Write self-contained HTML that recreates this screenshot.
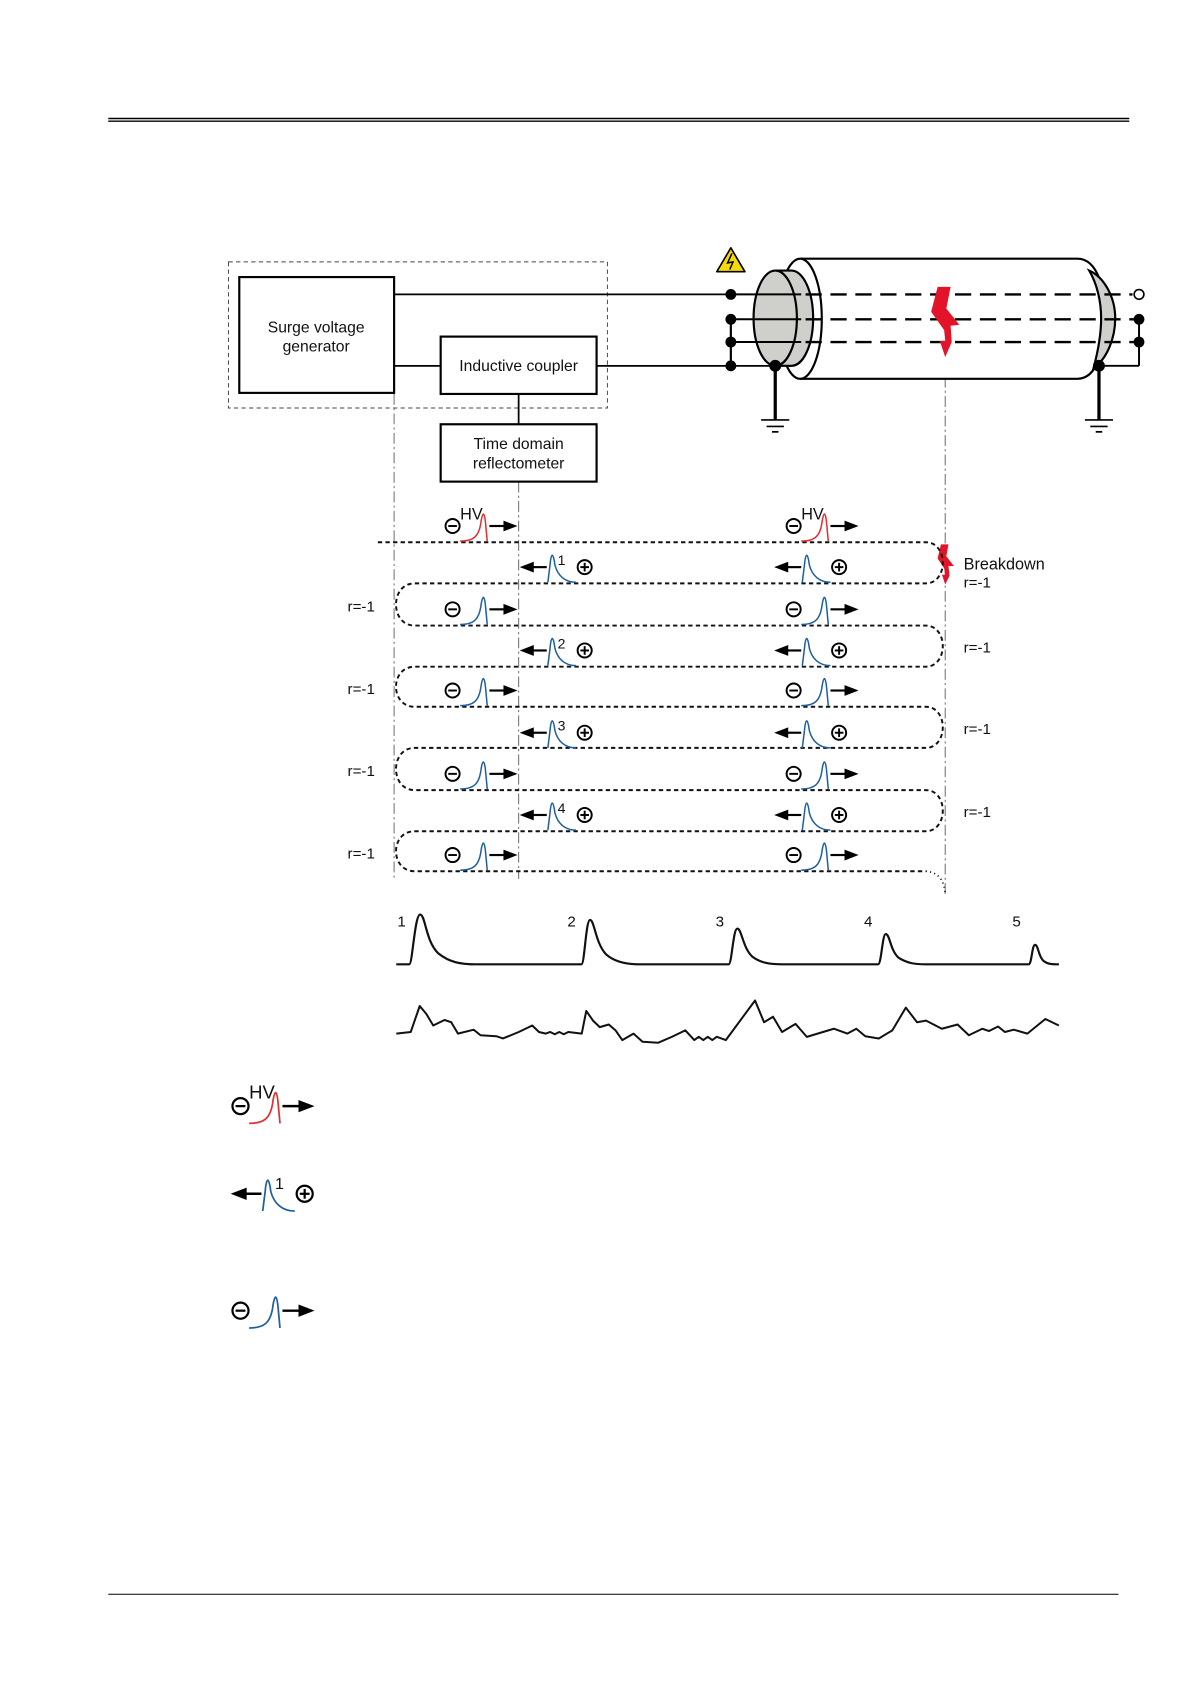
<!DOCTYPE html>
<html><head><meta charset="utf-8"><style>
html,body{margin:0;padding:0;background:#fff;}
svg{display:block;}
text{font-family:"Liberation Sans",sans-serif;fill:#111;}
</style></head><body>
<svg width="1191" height="1683" viewBox="0 0 1100 1555" preserveAspectRatio="none" xmlns="http://www.w3.org/2000/svg">
<defs>
  <g id="minus"><circle cx="0" cy="0" r="6.5" fill="none" stroke="#000" stroke-width="1.8"/><line x1="-4" y1="0" x2="4" y2="0" stroke="#000" stroke-width="1.8"/></g>
  <g id="plus"><circle cx="0" cy="0" r="6.5" fill="none" stroke="#000" stroke-width="1.8"/><line x1="-4" y1="0" x2="4" y2="0" stroke="#000" stroke-width="1.8"/><line x1="0" y1="-4" x2="0" y2="4" stroke="#000" stroke-width="1.8"/></g>
  <g id="arrR"><line x1="42" y1="0" x2="56" y2="0" stroke="#000" stroke-width="2"/><polygon points="55,-5 68,0 55,5" fill="#000"/></g>
  <g id="R">
    <use href="#minus" x="8" y="0"/>
    <path d="M15,14 C27,14 32,10 34,-2 C35.5,-14 37.5,-14 38.5,-2 L40,14" fill="none" stroke="#1f5fa0" stroke-width="1.4"/>
    <use href="#arrR"/>
  </g>
  <g id="RHV">
    <use href="#minus" x="8" y="0"/>
    <path d="M15,14 C27,14 32,10 34,-2 C35.5,-14 37.5,-14 38.5,-2 L40,14" fill="none" stroke="#e03030" stroke-width="1.4"/>
    <text x="15" y="-6" font-size="15">HV</text>
    <use href="#arrR"/>
  </g>
  <g id="L">
    <polygon points="0,0 13,-5 13,5" fill="#000"/>
    <line x1="12" y1="0" x2="25" y2="0" stroke="#000" stroke-width="2"/>
    <path d="M26,14 L28,-2 C29,-14 31,-14 32.5,-2 C35,8 42,14 52,14" fill="none" stroke="#1f5fa0" stroke-width="1.4"/>
    <use href="#plus" x="60" y="0"/>
  </g>
</defs>

<line x1="100" y1="109.5" x2="1043" y2="109.5" stroke="#000" stroke-width="1.3"/>
<line x1="100" y1="112" x2="1043" y2="112" stroke="#000" stroke-width="1.3"/>
<line x1="100" y1="1473" x2="1033" y2="1473" stroke="#000" stroke-width="1"/>

<rect x="211" y="242" width="350" height="135" fill="none" stroke="#444" stroke-width="0.9" stroke-dasharray="4 3"/>

<g stroke="#777" stroke-width="1" stroke-dasharray="10 3 2 3" fill="none">
  <line x1="364" y1="364" x2="364" y2="812"/>
  <line x1="479" y1="445" x2="479" y2="812"/>
  <line x1="873" y1="330" x2="873" y2="826"/>
</g>

<g stroke="#000" stroke-width="1.6" fill="none">
  <line x1="364" y1="272" x2="675" y2="272"/>
  <line x1="364" y1="338" x2="407" y2="338"/>
  <line x1="551" y1="338" x2="716" y2="338"/>
  <line x1="479" y1="364" x2="479" y2="392"/>
  <line x1="675" y1="295" x2="675" y2="338" stroke-width="2"/>
</g>

<rect x="221" y="256" width="143" height="107" fill="#fff" stroke="#000" stroke-width="2"/>
<text x="292" y="307" font-size="14.5" text-anchor="middle">Surge voltage</text>
<text x="292" y="325" font-size="14.5" text-anchor="middle">generator</text>
<rect x="407" y="311" width="144" height="53" fill="#fff" stroke="#000" stroke-width="2"/>
<text x="479" y="343" font-size="14.5" text-anchor="middle">Inductive coupler</text>
<rect x="407" y="392" width="144" height="53" fill="#fff" stroke="#000" stroke-width="2"/>
<text x="479" y="415" font-size="14.5" text-anchor="middle">Time domain</text>
<text x="479" y="433" font-size="14.5" text-anchor="middle">reflectometer</text>

<polygon points="675,229 688,251 662,251" fill="#f5d90a" stroke="#000" stroke-width="1.5" stroke-linejoin="round"/>
<polyline points="676,234 672,243 677,242 674,249" fill="none" stroke="#000" stroke-width="1.4"/>

<path d="M739,239 H995 C1014,239 1021,268 1021,294 C1021,320 1014,350 995,350 H739" fill="#fff" stroke="#000" stroke-width="2"/>
<path d="M1006,250 C1020,256 1030,275 1030,294 C1030,313 1022,332 1010,340 C1014,325 1017,310 1017,294 C1017,278 1013,262 1006,250 Z" fill="#cfcfcc" stroke="#000" stroke-width="2"/>
<ellipse cx="739" cy="294.5" rx="20" ry="55.5" fill="#fff" stroke="#000" stroke-width="2"/>
<ellipse cx="731" cy="294" rx="20" ry="44" fill="#cfcfcc" stroke="#000" stroke-width="2"/>
<rect x="716" y="250" width="15" height="88" fill="#cfcfcc"/>
<line x1="716" y1="250" x2="731" y2="250" stroke="#000" stroke-width="2"/>
<line x1="716" y1="338" x2="731" y2="338" stroke="#000" stroke-width="2"/>
<ellipse cx="716" cy="294" rx="20" ry="44" fill="#cfcfcc" stroke="#000" stroke-width="2"/>

<g stroke="#000" stroke-width="1.8">
  <line x1="675" y1="272" x2="740" y2="272"/>
  <line x1="675" y1="295" x2="740" y2="295"/>
  <line x1="675" y1="316" x2="740" y2="316"/>
</g>
<g stroke="#000" stroke-width="2.2" stroke-dasharray="15 8">
  <line x1="744" y1="272" x2="1046" y2="272"/>
  <line x1="744" y1="295" x2="1050" y2="295"/>
  <line x1="744" y1="316" x2="1050" y2="316"/>
</g>
<g stroke="#000" stroke-width="1.8" fill="none">
  <line x1="1015" y1="338" x2="1052" y2="338"/>
  <line x1="1052" y1="295" x2="1052" y2="338"/>
</g>
<circle cx="1052" cy="272" r="4.5" fill="#fff" stroke="#000" stroke-width="1.5"/>
<circle cx="1052" cy="295" r="5" fill="#000"/>
<circle cx="1052" cy="316" r="5" fill="#000"/>
<g fill="#000">
  <circle cx="675" cy="272" r="5"/><circle cx="675" cy="295" r="5"/><circle cx="675" cy="316" r="5"/><circle cx="675" cy="338" r="5"/>
  <circle cx="716" cy="338" r="5.5"/><circle cx="1015" cy="338" r="5.5"/>
</g>
<g stroke="#000">
  <line x1="716" y1="338" x2="716" y2="388" stroke-width="3"/>
  <line x1="703" y1="388" x2="729" y2="388" stroke-width="1.6"/>
  <line x1="708" y1="394" x2="724" y2="394" stroke-width="1.6"/>
  <line x1="713" y1="399" x2="719" y2="399" stroke-width="1.6"/>
  <line x1="1015" y1="338" x2="1015" y2="388" stroke-width="3"/>
  <line x1="1002" y1="388" x2="1028" y2="388" stroke-width="1.6"/>
  <line x1="1007" y1="394" x2="1023" y2="394" stroke-width="1.6"/>
  <line x1="1012" y1="399" x2="1018" y2="399" stroke-width="1.6"/>
</g>
<polygon points="866,265 878,265 874,285 886,300 878,301 879,316 873,330 868,315 873,315 872,305 860,288" fill="#e3132a"/>
<polygon points="869,503 876,503 874,514 881,523 876,523 877,532 873,540 870,531 873,531 872,525 866,516" fill="#e3132a"/>

<path d="M349,501 H855 C876,501 876,539 855,539 H383 C360,539 360,578 383,578 H855 C876,578 876,616 855,616 H383 C360,616 360,653 383,653 H855 C876,653 876,691 855,691 H383 C360,691 360,730 383,730 H855 C876,730 876,768 855,768 H383 C360,768 360,805 383,805 H855" fill="none" stroke="#111" stroke-width="1.8" stroke-dasharray="4 3"/>
<path d="M855,805 C866,806 872,812 873,826" fill="none" stroke="#111" stroke-width="1.6" stroke-dasharray="1 3"/>

<use href="#RHV" x="410" y="486"/><use href="#RHV" x="725" y="486"/>
<use href="#L" x="480" y="524"/><use href="#L" x="715" y="524"/>
<use href="#R" x="410" y="563"/><use href="#R" x="725" y="563"/>
<use href="#L" x="480" y="601"/><use href="#L" x="715" y="601"/>
<use href="#R" x="410" y="638"/><use href="#R" x="725" y="638"/>
<use href="#L" x="480" y="677"/><use href="#L" x="715" y="677"/>
<use href="#R" x="410" y="715"/><use href="#R" x="725" y="715"/>
<use href="#L" x="480" y="753"/><use href="#L" x="715" y="753"/>
<use href="#R" x="410" y="790"/><use href="#R" x="725" y="790"/>
<g font-size="13">
  <text x="515" y="522">1</text><text x="515" y="599">2</text><text x="515" y="675">3</text><text x="515" y="751">4</text>
</g>

<g font-size="14">
  <text x="321" y="565">r=-1</text><text x="321" y="641">r=-1</text><text x="321" y="717">r=-1</text><text x="321" y="793">r=-1</text>
  <text x="890" y="526" font-size="15">Breakdown</text><text x="890" y="543">r=-1</text>
  <text x="890" y="603">r=-1</text><text x="890" y="678">r=-1</text><text x="890" y="755">r=-1</text>
</g>

<g font-size="14"><text x="367" y="856">1</text><text x="524" y="856">2</text><text x="661" y="856">3</text><text x="798" y="856">4</text><text x="935" y="856">5</text></g>
<path d="M366,891 H378 C381,891 383,845 388,845 C393,845 393,870 405,881 C415,889 425,891 440,891 H537 C540,891 541,850 545,850 C549,850 550,872 560,882 C568,889 580,891 590,891 H673 C676,891 677,858 681,858 C685,858 686,876 695,884 C703,890 712,891 722,891 H811 C814,891 815,863 818,863 C822,863 822,878 830,885 C838,890 845,891 855,891 H950 C953,891 953,873 956,873 C959,873 959,884 964,888 C968,891 972,891 978,891" fill="none" stroke="#111" stroke-width="2"/>
<g transform="translate(354.4,832) scale(0.4157,0.3)">
<polyline vector-effect="non-scaling-stroke" fill="none" stroke="#111" stroke-width="2" stroke-linejoin="round"
points="28,410 60,405 80,325 95,350 110,385 135,368 150,375 165,410 200,398 215,415 250,418 265,425 300,405 330,385 345,405 360,410 370,405 380,412 390,405 400,412 410,405 440,410 450,340 465,370 480,390 500,382 515,400 530,430 555,410 575,435 610,438 640,420 670,400 690,430 700,420 710,430 720,420 730,430 740,420 760,430 825,308 845,375 865,358 885,405 915,380 940,420 1000,395 1030,410 1050,395 1070,418 1100,425 1130,400 1160,330 1185,375 1205,370 1240,395 1275,382 1300,415 1330,395 1345,402 1365,388 1380,405 1400,398 1430,410 1470,365 1500,385"/>
</g>

<use href="#RHV" transform="translate(213,1022) scale(1.14)"/>
<g transform="translate(213,1103) scale(1.14)"><use href="#L"/><text x="36" y="-4" font-size="13">1</text></g>
<use href="#R" transform="translate(213,1211) scale(1.14)"/>
</svg>
</body></html>
